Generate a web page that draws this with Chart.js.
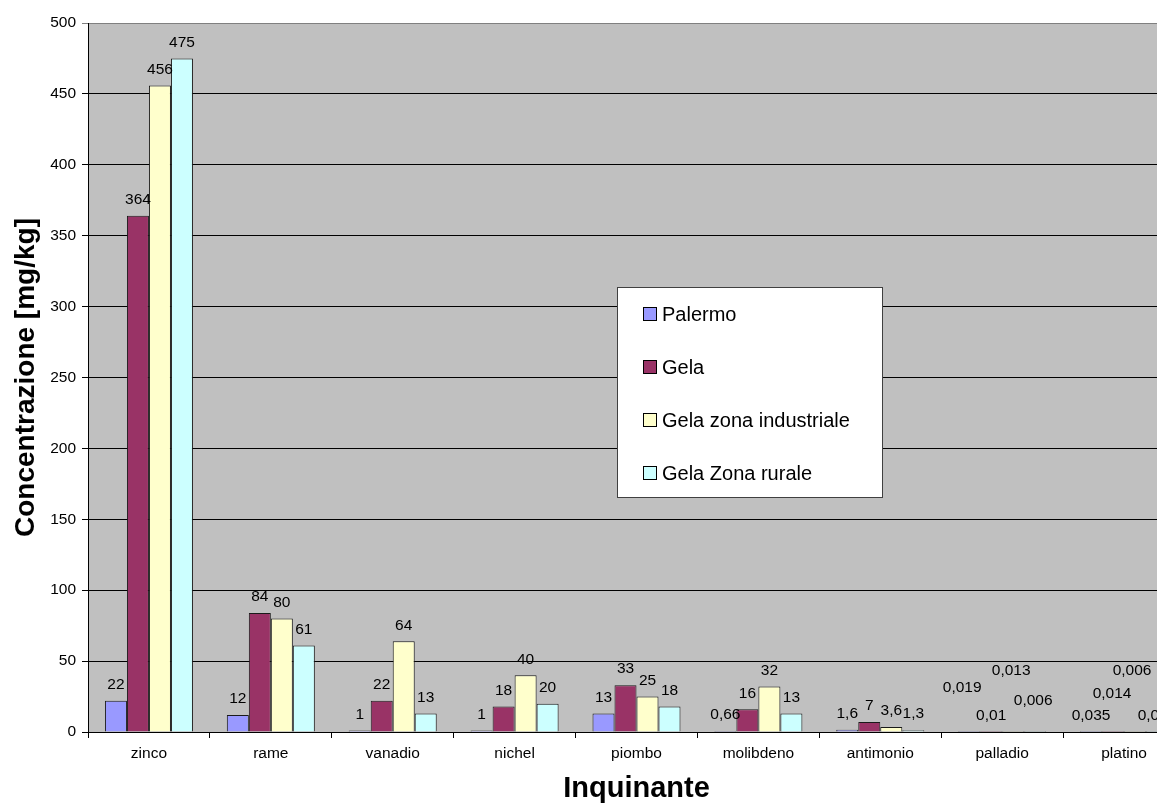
<!DOCTYPE html>
<html>
<head>
<meta charset="utf-8">
<script src="https://cdn.jsdelivr.net/npm/chart.js@4.4.0/dist/chart.umd.min.js"></script>
<style>
  html, body { margin: 0; padding: 0; background: #fff; overflow: hidden; }
  #wrap { width: 1157px; height: 806px; overflow: hidden; position: relative; }
  canvas { display: block; }
</style>
</head>
<body>
<div id="wrap"><canvas id="c" width="1186" height="806"></canvas></div>
<script>
// Concentrazioni di metalli [mg/kg] per sito
const categories = ['zinco', 'rame', 'vanadio', 'nichel', 'piombo', 'molibdeno', 'antimonio', 'palladio', 'platino'];
const palermo     = [22, 12, 1, 1, 13, 0.66, 1.6, 0.019, 0.035];
const gela        = [364, 84, 22, 18, 33, 16, 7, 0.01, 0.014];
const industriale = [456, 80, 64, 40, 25, 32, 3.6, 0.013, 0.006];
const rurale      = [475, 61, 13, 20, 18, 13, 1.3, 0.006, 0.005];
const yTicks = [0, 50, 100, 150, 200, 250, 300, 350, 400, 450, 500];

const seriesNames  = ['Palermo', 'Gela', 'Gela zona industriale', 'Gela Zona rurale'];
const seriesColors = ['#9999FF', '#993366', '#FFFFCC', '#CCFFFF'];

// Spostamenti manuali delle etichette sovrapposte: "serie:categoria" -> [dx, dy]
const labelNudge = {
  '0:7': [-7, -28], '2:7': [-2, -45], '3:7': [-2, -15],
  '1:8': [-1, -22], '2:8': [-3, -45]
};

const FONT = '"Liberation Sans", Arial, sans-serif';
const fmt = v => String(v).replace('.', ',');

const plotBackground = {
  id: 'plotBackground',
  beforeDraw(chart) {
    const { ctx, chartArea: a } = chart;
    ctx.save();
    ctx.fillStyle = '#fff';
    ctx.fillRect(0, 0, chart.width, chart.height);
    ctx.fillStyle = '#C0C0C0';
    ctx.fillRect(a.left, a.top, a.right - a.left, a.bottom - a.top);
    ctx.restore();
  }
};

const valueLabels = {
  id: 'valueLabels',
  afterDatasetsDraw(chart) {
    const { ctx } = chart;
    ctx.save();
    ctx.font = '15.5px ' + FONT;
    ctx.fillStyle = '#000';
    ctx.textAlign = 'center';
    ctx.textBaseline = 'middle';
    chart.data.datasets.forEach((ds, si) => {
      chart.getDatasetMeta(si).data.forEach((bar, ci) => {
        const n = labelNudge[si + ':' + ci] || [0, 0];
        ctx.fillText(fmt(ds.data[ci]), bar.x + n[0], bar.y - 16 + n[1]);
      });
    });
    ctx.restore();
  }
};

const boxLegend = {
  id: 'boxLegend',
  afterDraw(chart) {
    const { ctx } = chart;
    const x = 617, y = 287, w = 266, h = 211;
    ctx.save();
    ctx.fillStyle = '#fff';
    ctx.fillRect(x, y, w, h);
    ctx.strokeStyle = '#404040';
    ctx.lineWidth = 1;
    ctx.strokeRect(x + 0.5, y + 0.5, w - 1, h - 1);
    ctx.font = '20px ' + FONT;
    ctx.textAlign = 'left';
    ctx.textBaseline = 'middle';
    chart.data.datasets.forEach((ds, i) => {
      const cy = 314 + i * 53;
      ctx.fillStyle = ds.backgroundColor;
      ctx.fillRect(643.5, cy - 6.5, 13, 13);
      ctx.strokeStyle = '#000';
      ctx.strokeRect(643.5, cy - 6.5, 13, 13);
      ctx.fillStyle = '#000';
      ctx.fillText(ds.label, 662, cy + 1);
    });
    ctx.restore();
  }
};

const seriesData = [palermo, gela, industriale, rurale];

new Chart(document.getElementById('c'), {
  type: 'bar',
  data: {
    labels: categories,
    datasets: seriesData.map((d, i) => ({
      label: seriesNames[i],
      data: d,
      backgroundColor: seriesColors[i],
      borderColor: '#1a1a1a',
      borderWidth: 1,
      categoryPercentage: 0.722,
      barPercentage: 1
    }))
  },
  options: {
    responsive: false,
    animation: false,
    devicePixelRatio: 1,
    layout: { padding: { top: 23, right: 1, left: 0, bottom: 0 } },
    plugins: { legend: { display: false }, tooltip: { enabled: false } },
    scales: {
      x: {
        grid: { offset: true, drawOnChartArea: false, drawTicks: true, tickLength: 6, color: '#000' },
        border: { color: '#000', width: 1 },
        ticks: { color: '#000', font: { family: FONT, size: 15.5 }, padding: 6, maxRotation: 0, autoSkip: false },
        title: { display: true, text: 'Inquinante', color: '#000', font: { family: FONT, size: 29, weight: 'bold' }, padding: { top: 0, bottom: 0 } },
        afterFit(scale) { scale.height = 74; }
      },
      y: {
        min: 0, max: 500,
        afterBuildTicks(scale) { scale.ticks = yTicks.map(v => ({ value: v })); },
        grid: {
          color: c => (c.tick && c.tick.value === 500 ? '#808080' : '#000'),
          tickLength: 6, drawTicks: true
        },
        border: { color: '#000', width: 1 },
        ticks: { color: '#000', font: { family: FONT, size: 15.5 }, padding: 6 },
        title: { display: true, text: 'Concentrazione [mg/kg]', color: '#000', font: { family: FONT, size: 28, weight: 'bold' }, padding: { top: 9, bottom: 0 } },
        afterFit(scale) { scale.width = 88; }
      }
    }
  },
  plugins: [plotBackground, valueLabels, boxLegend]
});
</script>
</body>
</html>
